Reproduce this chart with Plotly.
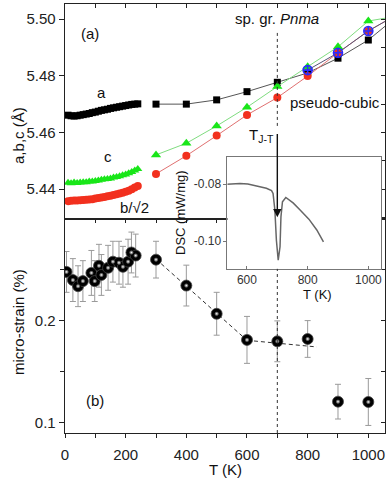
import plotly.graph_objects as go

# ---------------- data ----------------
# panel (a): lattice parameters, low-temperature dense scan
T_low = [10, 20, 30, 40, 50, 60, 70, 80, 90, 100, 110, 120, 130, 140, 150, 160,
         170, 180, 190, 200, 210, 220, 230, 240]
a_low = [5.4661, 5.4659, 5.4658, 5.4659, 5.4661, 5.4663, 5.4665, 5.4667, 5.4670, 5.4672,
         5.4675, 5.4678, 5.4680, 5.4682, 5.4685, 5.4687, 5.4689, 5.4691, 5.4693, 5.4695,
         5.4697, 5.4699, 5.4700, 5.4701]
c_low = [5.4423, 5.4421, 5.4424, 5.4422, 5.4424, 5.4425, 5.4425, 5.4427, 5.4427, 5.4429,
         5.4431, 5.4433, 5.4435, 5.4436, 5.4438, 5.4441, 5.4443, 5.4446, 5.4449, 5.4452,
         5.4456, 5.4461, 5.4466, 5.4471]
b_low = [5.4358, 5.4359, 5.4360, 5.4360, 5.4361, 5.4362, 5.4363, 5.4364, 5.4365, 5.4367,
         5.4369, 5.4371, 5.4373, 5.4375, 5.4377, 5.4380, 5.4382, 5.4385, 5.4388, 5.4391,
         5.4395, 5.4400, 5.4406, 5.4411]
# high-temperature points
T_high = [300, 400, 500, 600, 700, 800, 900, 1000, 1100]
a_high = [5.4700, 5.4700, 5.4715, 5.4744, 5.4777, 5.4810, 5.4862, 5.4926, 5.5014]
c_high = [5.4521, 5.4562, 5.4623, 5.4689, 5.4762, 5.4832, 5.4902, 5.4993, 5.5011]
b_high = [5.4454, 5.4518, 5.4589, 5.4662, 5.4723, 5.4799, 5.4881, 5.4958, 5.5019]
T_pc = [800, 900, 1000, 1100]
pc_val = [5.4820, 5.4881, 5.4958, 5.5019]

# panel (b): micro-strain
T_s_low = [5, 26, 43, 59, 87, 98, 112, 120, 142, 158, 178, 191, 208, 219, 233]
s_low = [0.248, 0.240, 0.234, 0.239, 0.247, 0.239, 0.254, 0.245, 0.252, 0.258,
         0.257, 0.253, 0.258, 0.267, 0.264]
e_low = [0.020, 0.021, 0.020, 0.020, 0.022, 0.020, 0.021, 0.020, 0.022, 0.020,
         0.021, 0.020, 0.022, 0.020, 0.021]
T_s_high = [300, 400, 500, 600, 700, 800, 900, 1000]
s_high = [0.260, 0.2346, 0.207, 0.1814, 0.180, 0.1823, 0.1209, 0.1206]
e_high = [0.018, 0.020, 0.021, 0.023, 0.020, 0.018, 0.017, 0.023]
fit1_T = [300, 600]
fit1_v = [0.2605, 0.181]
fit2_T = [600, 830]
fit2_v = [0.181, 0.1745]

# inset: DSC
dsc_T = [533, 560, 577, 603, 636, 664, 681, 686, 692, 697, 703, 709, 712, 717,
         728, 752, 775, 804, 830, 852]
dsc_v = [-0.0801, -0.0798, -0.0798, -0.0800, -0.0807, -0.0815, -0.0823, -0.0833,
         -0.0891, -0.0997, -0.1067, -0.1020, -0.0915, -0.0862, -0.0847, -0.0866,
         -0.0891, -0.0923, -0.0961, -0.1003]

T_JT = 700

# ---------------- figure ----------------
FONT = "Arial, Liberation Sans, sans-serif"
GREEN = "#19e619"
RED = "#f2301e"
BLUE = "#2a2aff"

fig = go.Figure()

# panel (a)
fig.add_trace(go.Scatter(x=T_high, y=a_high, mode="lines+markers", xaxis="x", yaxis="y",
                         line=dict(color="#555555", width=1),
                         marker=dict(symbol="square", size=7, color="black")))
fig.add_trace(go.Scatter(x=T_high, y=c_high, mode="lines+markers", xaxis="x", yaxis="y",
                         line=dict(color="#7fdc7f", width=1),
                         marker=dict(symbol="triangle-up", size=9, color=GREEN)))
fig.add_trace(go.Scatter(x=T_high, y=b_high, mode="lines+markers", xaxis="x", yaxis="y",
                         line=dict(color="#e07070", width=1),
                         marker=dict(symbol="circle", size=8, color=RED)))
fig.add_trace(go.Scatter(x=T_pc, y=pc_val, mode="lines+markers", xaxis="x", yaxis="y",
                         line=dict(color="#555577", width=1),
                         marker=dict(symbol="circle-cross-open", size=9, color=BLUE,
                                     line=dict(width=1.6, color=BLUE))))
fig.add_trace(go.Scatter(x=T_low, y=a_low, mode="markers", xaxis="x", yaxis="y",
                         marker=dict(symbol="square", size=7, color="black")))
fig.add_trace(go.Scatter(x=T_low, y=c_low, mode="markers", xaxis="x", yaxis="y",
                         marker=dict(symbol="triangle-up", size=8, color=GREEN)))
fig.add_trace(go.Scatter(x=T_low, y=b_low, mode="markers", xaxis="x", yaxis="y",
                         marker=dict(symbol="circle", size=8, color=RED)))

# panel (b)
T_s = T_s_low + T_s_high
s_all = s_low + s_high
e_all = e_low + e_high
for fx, fy in ((fit1_T, fit1_v), (fit2_T, fit2_v)):
    fig.add_trace(go.Scatter(x=fx, y=fy, mode="lines", xaxis="x2", yaxis="y2",
                             line=dict(color="#333333", width=1, dash="4px,3px")))
fig.add_trace(go.Scatter(x=T_s, y=s_all, mode="markers", xaxis="x2", yaxis="y2",
                         error_y=dict(type="data", array=e_all, color="#9a9a9a",
                                      thickness=1, width=3),
                         marker=dict(symbol="circle", size=11, color="black",
                                     line=dict(width=0.8, color="#444444"))))
fig.add_trace(go.Scatter(x=T_s, y=s_all, mode="markers", xaxis="x2", yaxis="y2",
                         marker=dict(symbol="circle", size=5, color="black",
                                     gradient=dict(type="radial", color="white"))))

# inset
fig.add_trace(go.Scatter(x=dsc_T, y=dsc_v, mode="lines", xaxis="x5", yaxis="y5",
                         line=dict(color="#666666", width=1.5)))

# empty traces so overlay axes render
fig.add_trace(go.Scatter(x=[None], y=[None], xaxis="x3", yaxis="y", hoverinfo="skip"))
fig.add_trace(go.Scatter(x=[None], y=[None], xaxis="x", yaxis="y3", hoverinfo="skip"))
fig.add_trace(go.Scatter(x=[None], y=[None], xaxis="x4", yaxis="y2", hoverinfo="skip"))
fig.add_trace(go.Scatter(x=[None], y=[None], xaxis="x2", yaxis="y4", hoverinfo="skip"))

XR = [0, 1055]
SPLIT = 0.4988
AX = dict(showgrid=False, zeroline=False, linecolor="#222222", linewidth=1.3,
          tickcolor="#222222", tickfont=dict(family=FONT, size=15, color="#222222"))

fig.update_layout(
    width=392, height=485,
    margin=dict(l=65, r=7, t=4, b=52),
    paper_bgcolor="white", plot_bgcolor="white",
    showlegend=False,
    font=dict(family=FONT, size=15, color="#222222"),
    xaxis=dict(AX, domain=[0, 1], anchor="y", range=XR, side="top", ticks="inside",
               dtick=100, ticklen=4, showticklabels=False, showline=True, mirror=True),
    yaxis=dict(AX, domain=[SPLIT, 1], anchor="x", range=[5.4295, 5.5053], dtick=0.02,
               tick0=5.44, tickformat=".2f", ticks="outside", ticklen=5,
               showline=True, mirror=True),
    xaxis3=dict(AX, overlaying="x", anchor="y", side="top", range=XR, ticks="inside",
                dtick=100, ticklen=4, showticklabels=False, showline=False),
    yaxis3=dict(AX, overlaying="y", anchor="x", side="right", range=[5.4295, 5.5053],
                dtick=0.01, tick0=5.43, ticks="inside", ticklen=4,
                showticklabels=False, showline=False),
    xaxis2=dict(AX, anchor="y2", range=XR, ticks="outside", dtick=200, ticklen=4,
                ticklabelstandoff=4,
                minor=dict(ticks="outside", dtick=100, ticklen=4, tickcolor="#222222"),
                showline=True, mirror=True),
    yaxis2=dict(AX, domain=[0, SPLIT], anchor="x2", range=[0.0902, 0.2998], dtick=0.1,
                tick0=0, ticks="outside", ticklen=5,
                minor=dict(ticks="outside", dtick=0.05, ticklen=4, tickcolor="#222222"),
                showline=True, mirror=True),
    xaxis4=dict(AX, overlaying="x2", anchor="y2", side="top", range=XR, ticks="inside",
                dtick=100, ticklen=4, showticklabels=False, showline=False),
    yaxis4=dict(AX, overlaying="y2", anchor="x2", side="right", range=[0.0902, 0.2998],
                dtick=0.05, tick0=0, ticks="inside", ticklen=4,
                showticklabels=False, showline=False),
    xaxis5=dict(showgrid=False, zeroline=False, domain=[0.5078, 0.989], anchor="y5",
                range=[536, 1043], dtick=200, ticks="inside", ticklen=3,
                tickcolor="#777777", linecolor="#777777", linewidth=1, showline=True,
                mirror=True, tickfont=dict(family=FONT, size=12, color="#333333")),
    yaxis5=dict(showgrid=False, zeroline=False, domain=[0.3823, 0.6434], anchor="x5",
                range=[-0.1098, -0.0705], tickvals=[-0.10, -0.08],
                ticktext=["-0.10", "-0.08"], ticks="outside", ticklen=3,
                tickcolor="#777777", linecolor="#777777", linewidth=1, showline=True,
                mirror=True, tickfont=dict(family=FONT, size=12, color="#333333")),
)

# dotted Jahn-Teller line
fig.add_shape(type="line", xref="x", yref="y", x0=T_JT, x1=T_JT, y0=5.4951, y1=5.4613,
              line=dict(color="#333333", width=1, dash="dot"))
fig.add_shape(type="line", xref="x2", yref="y2", x0=T_JT, x1=T_JT, y0=0.0902, y1=0.251,
              line=dict(color="#333333", width=1, dash="dot"))

def txt(x, y, s, xref="x", yref="y", size=15, **kw):
    fig.add_annotation(x=x, y=y, xref=xref, yref=yref, text=s, showarrow=False,
                       xanchor="center", yanchor="middle",
                       font=dict(family=FONT, size=size, color="#111111"), **kw)

txt(81, 5.4950, "(a)")
txt(121, 5.4740, "a")
txt(141, 5.4514, "c")
txt(230, 5.4335, "b/√2")
txt(T_JT, 5.5003, "sp. gr. <i>Pnma</i>")
txt(891, 5.4705, "pseudo-cubic")
txt(648, 5.4590, "T<sub>J-T</sub>")
txt(98, 0.1225, "(b)", xref="x2", yref="y2")

# arrow into the DSC dip
fig.add_annotation(x=T_JT, y=5.4301, xref="x", yref="y", ax=T_JT, ay=5.4600,
                   axref="x", ayref="y", showarrow=True, arrowhead=2, arrowsize=1.2,
                   arrowwidth=1.4, arrowcolor="#111111", text="")

# axis titles
txt(-0.147, 0.6946, "a,b,c (Å)", xref="paper", yref="paper", textangle=-90)
txt(-0.147, 0.2587, "micro-strain (%)", xref="paper", yref="paper", textangle=-90)
txt(0.5, -0.0862, "T (K)", xref="paper", yref="paper")
txt(0.359, 0.515, "DSC (mW/mg)", xref="paper", yref="paper", size=13, textangle=-90)
txt(0.79, 0.324, "T (K)", xref="paper", yref="paper", size=13)

fig.write_html("out.html", config={"displayModeBar": False, "staticPlot": True},
               post_script="document.body.style.margin='0px';document.body.style.overflow='hidden';")
